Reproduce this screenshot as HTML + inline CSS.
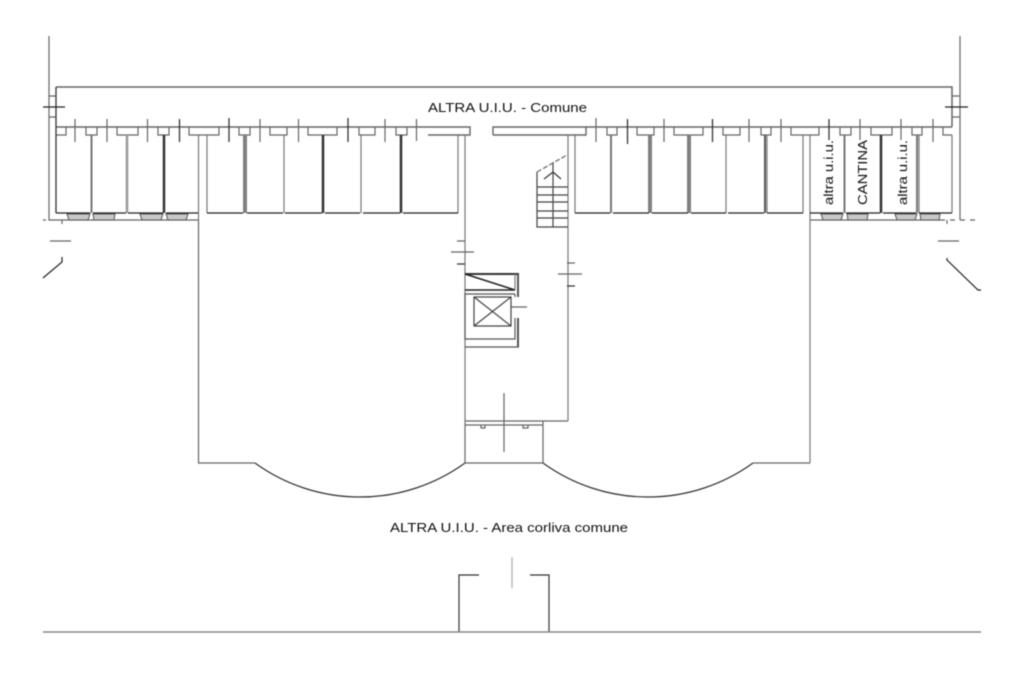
<!DOCTYPE html>
<html><head><meta charset="utf-8"><style>
html,body{margin:0;padding:0;background:#fff;width:1024px;height:682px;overflow:hidden}
svg{display:block;filter:blur(.45px)}
text{font-family:"Liberation Sans",sans-serif;font-size:13px;fill:#111}
</style></head><body>
<svg width="1024" height="682" viewBox="0 0 1024 682" xmlns="http://www.w3.org/2000/svg">
<g fill="none" stroke="#666" stroke-width="1.200">
<!-- outer lines -->
<path d="M49 36V220H198M960 36V220M810 220H945M950 220h5M960 220h5M970 220h5M43 220h3"/>
<path d="M62 220v4M947 220v4"/>
<path d="M50 241H71M938 241H959"/>
<!-- comune -->
<path d="M56 87H952V127" stroke-width="1.500"/>
<path d="M56 127H470V135H428M493 135V127H952M493 127H586V135H493" stroke-width="1.400"/>
<path d="M49 96H56M49 117H56M952 96H960M952 117H960"/>
<!-- notches -->
<path d="M56 135H66V127M86 127V135H97V127M117 127V135H138V127M158 127V135H169V127M189 127V135H219V127M239 127V135H250V127M270 127V135H287V127M308 127V135H337V127M359 127V135H375V127M396 127V135H407V127"/>
<path d="M607 127V135H617V127M637 127V135H654V127M674 127V135H703V127M723 127V135H740V127M761 127V135H771V127M791 127V135H819V127M840 127V135H851V127M871 127V135H892V127M912 127V135H922V127M943 127V135H952"/>
<!-- light ticks -->
<path d="M75 119V142M107 119V142M147.500 119V142M260 119V142M298.500 119V142M385 119V142M416.500 119V141M596 118V142M664 119V142M749 119V142M781 119V142M860 119V142M901 119V142M933 119V142"/>
<!-- room walls gray -->
<path d="M198.500 135V220M207 135V213M284 135V213M361 135V213M458 135V213M465 135V423M568 135V421M575 135V213M726 135V213M767 135V213M803 135V213M810 135V463M919 135V213M952 135V213" stroke="#777"/>
<path d="M91.500 135V213M611 135V213" stroke="#777" stroke-width="2"/>
<path d="M127 135V213" stroke="#999" stroke-width="2.500"/>
<path d="M245 135V213M650 135V213M689 135V213" stroke="#808080" stroke-width="4"/>
<path d="M765 135V213" stroke="#555" stroke-width="2"/>
<path d="M164 135V213M323 135V213M401 135V213M881 135V213" stroke="#333" stroke-width="2.500"/>
<path d="M844.500 135V213M917 135V213" stroke="#777" stroke-width="2"/>
<path d="M56 87V135M56 135V213" stroke="#333" stroke-width="1.300"/>
<path d="M198.500 220V463H255M753 463H810" stroke="#666"/>
<!-- dark ticks -->
<path d="M179.500 119V142M229 118V142M348 118V142M627.500 119V144M712.500 119V142M829 119V142" stroke="#333" stroke-width="1.300"/>
<path d="M43 107H65M945 107H968" stroke="#222"/>
<!-- room bottoms -->
<path d="M56 213H90M93 213H126M128 213H163M166 213H198M207 213H243M247 213H283M285 213H322M325 213H360M363 213H400M403 213H458M575 213H610M613 213H649M652 213H688M691 213H726M728 213H764M767 213H803M810 213H843M846 213H880M883 213H916M919 213H952" stroke="#222"/>
<!-- windows -->
<g fill="#c8c8c8" stroke="#555" stroke-width="1">
<path d="M67 214H90L88 220H69Z"/><path d="M93 214H115L114 220H94Z"/><path d="M140 214H163L161 220H142Z"/><path d="M166 214H188L186 220H168Z"/>
<path d="M821 214H843L841 220H823Z"/><path d="M847 214H868L867 220H848Z"/><path d="M895 214H917L915 220H897Z"/><path d="M920 214H940L939 220H921Z"/>
</g>
<!-- entry diagonals -->
<path d="M62 257V262L43 278" stroke="#222" stroke-width="1.200"/>
<path d="M947 258V260L978 290H981" stroke="#222" stroke-width="1.200"/>
<!-- stairs -->
<path d="M537 172V227H568M553 162V227M537 218H568M537 211H568M537 202H568M537 195H568M537 187H568" stroke="#444"/>
<path d="M537 172L567 155" stroke-dasharray="5 2"/>
<path d="M544 179L553 172L561 179" stroke="#333"/>
<!-- corridor ticks -->
<path d="M457 241H465M451 252H474M567 263H575M558 274H582M511 307H527"/>
<path d="M457 264H465M567 286H575" stroke="#333"/>
<!-- lift -->
<path d="M465 274H519" stroke="#333" stroke-width="2"/>
<path d="M465 290H515M465 274L515 290" stroke="#222" stroke-width="1.500"/>
<path d="M515 274V290" stroke="#777"/>
<path d="M518 274V297M518 318V347" stroke="#555" stroke-width="2"/>
<path d="M515 294H465V339H515V318M515 294V297" stroke="#555"/>
<path d="M474 297H511V326H474ZM474 297L511 326M511 297L474 326" stroke="#444"/>
<path d="M465 347H519" stroke="#555"/>
<!-- entrance -->
<path d="M465 421H568M465 425H543" stroke="#666"/>
<path d="M481 425V428H485V425M523 425V428H528V425"/>
<path d="M504 393V452M543 421V463M465 423V463M465 463H543" stroke="#666"/>
<!-- arcs -->
<path d="M255 463A179 179 0 0 0 465 463M543 463A179 179 0 0 0 753 463" stroke="#333" stroke-width="1.200"/>
<!-- gate -->
<path d="M479 575H459V632M530 575H549V632" stroke="#333"/>
<path d="M512 557V588" stroke="#aaa"/>
<path d="M43 632H981" stroke="#888" stroke-width="1.400"/>
</g>
<rect x="822" y="140" width="13" height="66" fill="#fff"/>
<rect x="855" y="140" width="14" height="66" fill="#fff"/>
<rect x="896" y="140" width="13" height="66" fill="#fff"/>
<text x="428" y="112" textLength="159" lengthAdjust="spacingAndGlyphs">ALTRA U.I.U. - Comune</text>
<text x="390" y="532" textLength="238" lengthAdjust="spacingAndGlyphs">ALTRA U.I.U. - Area corliva comune</text>
<text transform="translate(833 205) rotate(-90)" textLength="65" lengthAdjust="spacingAndGlyphs">altra u.i.u.</text>
<text transform="translate(867 205) rotate(-90)" textLength="65" lengthAdjust="spacingAndGlyphs">CANTINA</text>
<text transform="translate(907 205) rotate(-90)" textLength="65" lengthAdjust="spacingAndGlyphs">altra u.i.u.</text>
</svg>
</body></html>
